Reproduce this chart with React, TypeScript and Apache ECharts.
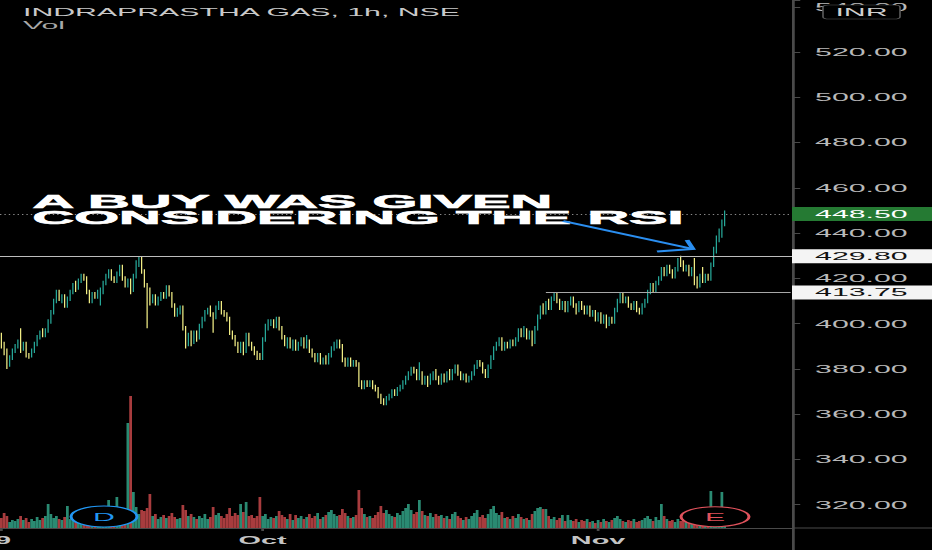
import React, { useEffect, useRef } from 'react';
import * as echarts from 'echarts';

// The reference picture is a TradingView chart stretched horizontally; the chart is
// drawn in an unstretched coordinate space and stretched back with a CSS transform.
const S = 2.75;
const W = 932 / S;
const H = 550;
const FONT = '"Liberation Sans", Arial, Helvetica, sans-serif';

const title = 'INDRAPRASTHA GAS, 1h, NSE';
const volLabel = 'Vol';
const noteLines = ['A BUY WAS GIVEN', 'CONSIDERING THE RSI'];
const currency = 'INR';

// hourly candles: [open, close, low, high]
const septemberCandles: number[][] = [
  [395, 391, 389, 396], [391, 388, 386, 392], [388, 382, 380, 389], [382, 385, 381, 386], [385, 388, 384, 389],
  [388, 390, 387, 391], [390, 392, 389, 393], [392, 389, 387, 398], [389, 391, 388, 392], [391, 386, 385, 392],
  [386, 385.5, 384.5, 387], [385.5, 388, 385, 389], [388, 391, 387, 392], [391, 394, 390, 395], [394, 396, 393, 397],
  [396, 395, 394, 398], [395, 397, 394, 398], [397, 401, 396, 402], [401, 405, 400, 406], [405, 410, 404, 411],
  [410, 414, 409, 415], [414, 411, 410, 415], [411, 412, 409, 413], [412, 408, 407, 413], [408, 411, 407, 412],
  [411, 414, 410, 415], [414, 417, 413, 418], [417, 416, 414, 419], [416, 419, 415, 420], [419, 421, 418, 422],
  [421, 420, 419, 422], [420, 414, 413, 421], [414, 410, 409, 415], [410, 413, 409, 414], [413, 412, 411, 414],
  [412, 414, 411, 415], [414, 415, 408, 416], [415, 418, 413, 419], [418, 421, 417, 422], [421, 423, 420, 424],
  [423, 420, 419, 424], [420, 419, 418, 421], [419, 422, 418, 423], [422, 425, 421, 426], [425, 420, 419, 426],
  [420, 417, 416, 421], [417, 419, 416, 420], [419, 415, 413, 420], [415, 421, 414, 422], [421, 427, 420, 428],
  [427, 429, 425, 429.8], [429, 423, 422, 429.5], [423, 417, 416, 424], [417, 415, 398, 418], [415, 410, 408, 416],
  [410, 412, 409, 413], [412, 409, 408, 413], [409, 411, 408, 412], [411, 413, 410, 414], [413, 412, 411, 414],
  [412, 416, 411, 417], [416, 413, 412, 417], [413, 408, 407, 414], [408, 404, 403, 409], [404, 406, 403, 407],
  [406, 407, 404, 408], [407, 398, 397, 408], [398, 391, 389, 399], [391, 395, 390, 396], [395, 393, 390, 397],
  [393, 396, 391, 397], [396, 394, 392, 397], [394, 399, 393, 400], [399, 402, 398, 403], [402, 405, 401, 406],
  [405, 406, 404, 407], [406, 404, 403, 408], [404, 403, 396, 405], [403, 407, 402, 408], [407, 409, 406, 410],
  [409, 405, 404, 410], [405, 404, 403, 406], [404, 402, 401, 405], [402, 396, 395, 403], [396, 394, 393, 397],
  [394, 391, 390, 395], [391, 389, 387, 392], [389, 391, 387, 392], [391, 388, 386, 392], [388, 395, 387, 396],
  [395, 391, 390, 396], [391, 389, 388, 392], [389, 387, 386, 390], [387, 386, 384, 388], [386, 385, 384, 387],
];

const octoberCandles: number[][] = [
  [385, 393, 384, 394], [393, 398, 392, 400], [398, 400, 397, 402], [400, 401, 399, 402], [401, 399, 398, 402],
  [399, 402, 398, 403], [402, 398, 397, 403], [398, 394, 393, 399], [394, 391, 390, 395], [391, 393, 389, 394],
  [393, 390, 389, 394], [390, 392, 388, 393], [392, 389, 388, 393], [389, 391, 388, 392], [391, 393, 390, 394],
  [393, 390, 389, 394], [390, 392, 389, 395], [392, 388, 387, 393], [388, 386, 385, 389], [386, 384, 383, 387],
  [384, 386, 383, 387], [386, 383, 382, 387], [383, 384, 382, 385], [384, 383, 382, 386], [383, 386, 382, 387],
  [386, 389, 385, 390], [389, 391, 388, 392], [391, 392, 389, 393], [392, 390, 389, 393], [390, 384, 383, 391],
  [384, 382, 381, 385], [382, 384, 381, 385], [384, 382, 381, 385], [382, 383, 381, 384], [383, 382, 381, 384],
  [382, 374, 372, 383], [374, 372, 371, 375], [372, 374, 371, 375], [374, 373, 372, 375], [373, 374, 372, 375],
  [374, 372, 371, 375], [372, 371, 370, 373], [371, 368, 367, 372], [368, 366, 364.5, 369], [366, 365, 364, 367],
  [365, 367, 364, 368], [367, 368, 366, 369], [368, 370, 367, 371], [370, 369, 368, 371], [369, 371, 368, 372],
  [371, 372, 370, 373], [372, 374, 371, 375], [374, 376, 373, 377], [376, 378, 375, 379], [378, 380, 377, 381],
  [380, 379, 378, 381], [379, 376, 375, 380], [376, 378, 375, 383], [378, 374, 373, 379], [374, 376, 373, 377],
  [376, 374, 372, 377], [374, 377, 373, 378], [377, 378, 375, 379], [378, 376, 375, 380], [376, 374, 373, 377],
  [374, 377, 373, 378], [377, 375, 374, 378], [375, 378, 374, 379], [378, 376, 375, 380], [376, 379, 375, 380],
  [379, 381, 378, 382], [381, 378, 377, 382], [378, 376, 375, 379], [376, 377, 375, 378], [377, 375, 374, 378],
  [375, 376, 374, 377], [376, 378, 375, 379], [378, 381, 377, 382], [381, 383, 380, 384], [383, 382, 381, 384],
  [382, 379, 378, 383], [379, 377, 376, 380], [377, 381, 376, 382], [381, 385, 380, 386], [385, 389, 384, 390],
  [389, 391, 388, 392], [391, 393, 390, 394], [393, 389, 388, 394], [389, 391, 388, 392], [391, 390, 389, 392],
  [390, 392, 389, 393], [392, 391, 390, 393], [391, 393, 390, 394], [393, 397, 392, 398], [397, 395, 394, 398],
  [395, 397, 394, 399], [397, 394, 393, 398], [394, 396, 393, 397], [396, 392, 390, 397], [392, 398, 391, 399],
  [398, 403, 397, 404], [403, 407, 402, 408], [407, 405, 404, 409], [405, 409, 404, 410], [409, 407, 406, 411],
  [407, 411, 406, 412], [411, 413, 410, 414], [413, 410, 409, 414], [410, 407, 406, 411], [407, 409, 406, 410],
  [409, 406, 405, 410], [406, 409, 405, 410], [409, 411, 408, 412], [411, 408, 407, 412], [408, 406, 404, 409],
  [406, 409, 405, 410], [409, 407, 406, 410], [407, 405, 404, 408], [405, 407, 404, 408], [407, 404, 403, 408],
  [404, 405, 403, 406], [405, 402, 401, 406],
];

const novemberCandles: number[][] = [
  [402, 404, 401, 405], [404, 401, 400, 405], [401, 403, 400, 404], [403, 400, 398, 404], [400, 402, 399, 403],
  [402, 401, 400, 403], [401, 406, 400, 407], [406, 410, 405, 411], [410, 413, 409, 414], [413, 410, 409, 414],
  [410, 411, 409, 412], [411, 408, 407, 412], [408, 407, 406, 409], [407, 409, 406, 410], [409, 406, 405, 410],
  [406, 405, 404, 407], [405, 408, 404, 409], [408, 410, 407, 411], [410, 414, 409, 415], [414, 417, 413, 418],
  [417, 415, 414, 418], [415, 418, 414, 419], [418, 420, 417, 421], [420, 424, 419, 425], [424, 422, 421, 425],
  [422, 425, 421, 426], [425, 423, 422, 426], [423, 421, 420, 424], [421, 424, 420, 425], [424, 428, 423, 429],
  [428, 427, 425, 430], [427, 424, 423, 428], [424, 425, 423, 426], [425, 422, 421, 426], [422, 424, 421, 425],
  [424, 419, 417, 429], [419, 417, 415.5, 421], [417, 421, 416, 422], [421, 419, 418, 425], [419, 421, 418, 422],
  [421, 420, 419, 422], [420, 426, 419, 427], [426, 433, 425, 434], [433, 438, 431, 439], [438, 440, 436, 442],
  [440, 445, 438, 446], [445, 448.5, 443, 450],
];

// volume per candle, in units of 10,000 shares
const septemberVolumes = [
  10, 15, 12, 6, 8, 7, 9, 12, 8, 10, 6, 9, 7, 11, 8, 10, 12, 24, 14, 10,
  12, 9, 8, 11, 22, 9, 8, 10, 7, 9, 8, 11, 8, 10, 7, 9, 12, 10, 12, 28,
  9, 11, 31, 12, 10, 9, 105, 132, 36, 21, 14, 18, 17, 20, 34, 12, 14, 9, 11, 13,
  10, 12, 15, 11, 9, 10, 23, 18, 12, 14, 11, 9, 12, 10, 14, 9, 11, 21, 13, 15,
  12, 10, 14, 20, 12, 15, 13, 24, 16, 26, 12, 13, 10, 12, 31,
];
const octoberVolumes = [
  12, 14, 9, 11, 10, 12, 17, 13, 11, 9, 14, 8, 13, 10, 12, 9, 11, 14, 10, 12,
  15, 9, 11, 13, 16, 18, 14, 12, 13, 19, 15, 12, 10, 11, 13, 38, 20, 14, 11, 12,
  10, 13, 16, 22, 15, 18, 14, 12, 11, 15, 13, 17, 20, 24, 18, 14, 16, 28, 17, 13,
  12, 15, 11, 14, 12, 13, 10, 12, 9, 14, 16, 12, 10, 8, 11, 9, 12, 15, 18, 11,
  13, 10, 14, 19, 22, 15, 13, 16, 10, 11, 9, 12, 10, 14, 11, 9, 10, 8, 14, 17,
  20, 21, 19, 19, 12, 9, 11, 8, 10, 13, 7, 13, 8, 7, 9, 6, 8, 7, 9, 6,
  7, 5,
];
const novemberVolumes = [
  8, 6, 9, 7, 6, 8, 10, 12, 9, 7, 6, 8, 7, 9, 6, 7, 8, 10, 12, 9,
  7, 11, 8, 24, 12, 9, 7, 8, 6, 9, 7, 8, 6, 7, 5, 9, 8, 7, 6, 8,
  9, 37, 14, 11, 10, 36, 18,
];

const EMPTY_SLOTS = 24; // blank bars to the right of the last candle
const xTickLabels = [
  { index: 0, text: '19' },
  { index: 95, text: 'Oct' },
  { index: 217, text: 'Nov' },
];

const lastPrice = 448.5;
const resistance = 429.8;
const breakout = 413.75;
const breakoutStartIndex = 198;

const candles = [...septemberCandles, ...octoberCandles, ...novemberCandles];
const volumes = [...septemberVolumes, ...octoberVolumes, ...novemberVolumes];
const categories = Array.from({ length: candles.length + EMPTY_SLOTS }, (_, i) => String(i));

const UP = '#27a99a';
const DOWN = '#f2ee86';
const VOL_UP = '#2a8a72';
const VOL_DOWN = '#a83c3e';
const AXIS = '#4a4a4a';
const RIGHT = 140 / S;

const sx = (px: number) => px / S;

function tag(text: string, bg: string, fg: string, distance = 0) {
  return {
    show: true,
    position: 'end',
    distance,
    formatter: text,
    backgroundColor: bg,
    color: fg,
    fontSize: 11,
    fontFamily: FONT,
    lineHeight: 12,
    padding: [1, 9, 1, 8.4],
  };
}

function buildOption() {
  const tickMap = new Map(xTickLabels.map((t) => [t.index, t.text]));
  const isTick = (index: number) => tickMap.has(index);

  const textEl = (text: string, x: number, y: number, font: string, fill: string, align = 'left', extra: any = {}, scaleY = 1) => ({
    type: 'text',
    x,
    y,
    scaleY,
    z: 20,
    silent: true,
    style: {
      text,
      x: 0,
      y: 0,
      font,
      fill,
      align,
      verticalAlign: 'middle',
      textAlign: align,
      textVerticalAlign: 'middle',
      ...extra,
    },
  });

  const gridBase = { left: 0, right: RIGHT, containLabel: false, outerBoundsMode: 'none' };

  return {
    animation: false,
    backgroundColor: '#000000',
    textStyle: { fontFamily: FONT },
    grid: [
      { ...gridBase, top: 0, bottom: 0 },
      { ...gridBase, top: 388, bottom: 22 },
    ],
    xAxis: [
      { type: 'category', gridIndex: 0, data: categories, boundaryGap: true, show: false },
      {
        type: 'category',
        gridIndex: 1,
        data: categories,
        boundaryGap: true,
        axisLine: { show: true, lineStyle: { color: AXIS, width: 1 } },
        axisTick: { show: true, alignWithLabel: true, interval: isTick, length: 3, lineStyle: { color: AXIS } },
        axisLabel: {
          show: true,
          interval: isTick,
          margin: 6.5,
          color: '#c4c4c4',
          fontSize: 10.5,
          fontWeight: 'bold',
          fontFamily: FONT,
          formatter: (_v: string, index: number) => {
            const t = tickMap.get(index) || '';
            return index === 0 ? `{cut|${t}}` : t;
          },
          rich: {
            cut: { padding: [0, 4.6, 0, 0], color: '#c4c4c4', fontSize: 10.5, fontWeight: 'bold', fontFamily: FONT },
          },
        },
        splitLine: { show: false },
      },
    ],
    yAxis: [
      {
        type: 'value',
        gridIndex: 0,
        position: 'right',
        min: 300,
        max: 543,
        interval: 20,
        axisLine: { show: true, lineStyle: { color: AXIS, width: 1 } },
        axisTick: { show: true, length: 3, lineStyle: { color: AXIS } },
        axisLabel: {
          color: '#b9b9b9',
          fontSize: 11,
          fontFamily: FONT,
          margin: 8.4,
          formatter: (v: number) => (v % 20 === 0 && v >= 320 ? v.toFixed(2) : ''),
        },
        splitLine: { show: false },
      },
      { type: 'value', gridIndex: 1, min: 0, max: 140, show: false, splitLine: { show: false } },
    ],
    series: [
      {
        type: 'candlestick',
        xAxisIndex: 0,
        yAxisIndex: 0,
        data: candles,
        barWidth: '66%',
        itemStyle: { color: UP, color0: DOWN, borderColor: UP, borderColor0: DOWN, borderWidth: 0.45 },
        markLine: {
          silent: true,
          symbol: ['none', 'none'],
          animation: false,
          data: [
            {
              yAxis: lastPrice,
              lineStyle: { color: '#8a8a8a', type: [0.5, 1.1], width: 1 },
              label: tag(lastPrice.toFixed(2), '#257a33', '#ffffff'),
            },
            {
              yAxis: resistance,
              lineStyle: { color: '#bdbdbd', type: 'solid', width: 1 },
              label: tag(resistance.toFixed(2), '#f4f4f4', '#111111'),
            },
            [
              {
                coord: [categories[breakoutStartIndex], breakout],
                lineStyle: { color: '#a8a8a8', type: 'solid', width: 1 },
                label: tag(breakout.toFixed(2), '#f4f4f4', '#111111', 0.5),
              },
              {
                coord: [categories[categories.length - 1], breakout],
                lineStyle: { color: '#a8a8a8', type: 'solid', width: 1 },
                label: tag(breakout.toFixed(2), '#f4f4f4', '#111111', 0.5),
              },
            ],
          ],
        },
      },
      {
        type: 'bar',
        xAxisIndex: 1,
        yAxisIndex: 1,
        barWidth: '38%',
        data: volumes.map((v, i) => ({
          value: v,
          itemStyle: { color: candles[i][1] >= candles[i][0] ? VOL_UP : VOL_DOWN },
        })),
      },
    ],
    graphic: [
      textEl(title, sx(23), 12.3, `11px ${FONT}`, '#c9c9c9'),
      textEl(volLabel, sx(23), 25.3, `11px ${FONT}`, '#a8a8a8'),
      textEl(noteLines[0], sx(32.5), 201.7, `bold 21px ${FONT}`, '#ffffff', 'left', { stroke: '#ffffff', lineWidth: 0.7 }, 0.88),
      textEl(noteLines[1], sx(32.5), 217.8, `bold 21px ${FONT}`, '#ffffff', 'left', { stroke: '#ffffff', lineWidth: 0.7 }, 0.88),
      {
        type: 'polyline',
        z: 20,
        silent: true,
        shape: { points: [[sx(563), 221], [sx(693), 249]] },
        style: { stroke: '#2a8ef0', lineWidth: 1.8, fill: null },
      },
      {
        type: 'polyline',
        z: 20,
        silent: true,
        shape: { points: [[sx(657), 251.5], [sx(693), 249], [sx(687), 240]] },
        style: { stroke: '#2a8ef0', lineWidth: 1.8, fill: null, lineJoin: 'miter' },
      },
      {
        type: 'line',
        z: 20,
        silent: true,
        shape: { x1: sx(792), y1: 528, x2: W, y2: 528 },
        style: { stroke: AXIS, lineWidth: 1 },
      },
      {
        type: 'ellipse',
        z: 20,
        silent: true,
        shape: { cx: sx(104), cy: 516.5, rx: sx(33), ry: 10.5 },
        style: { fill: '#000000', stroke: '#2196f3', lineWidth: 1.1 },
      },
      textEl('D', sx(104), 517, `11px ${FONT}`, '#2196f3', 'center'),
      {
        type: 'ellipse',
        z: 20,
        silent: true,
        shape: { cx: sx(715), cy: 516.7, rx: sx(34), ry: 10 },
        style: { fill: '#000000', stroke: '#e0525c', lineWidth: 1.1 },
      },
      textEl('E', sx(715), 517, `11px ${FONT}`, '#e0525c', 'center'),
      {
        type: 'rect',
        z: 20,
        silent: true,
        shape: { x: sx(823), y: 5, width: sx(77), height: 14, r: 2 },
        style: { fill: '#000000', stroke: '#5a5a5a', lineWidth: 0.6 },
      },
      textEl(currency, sx(861.5), 11.8, `11px ${FONT}`, '#cfcfcf', 'center'),
    ],
  };
}

export default function App() {
  const ref = useRef<HTMLDivElement>(null);
  useEffect(() => {
    const el = ref.current;
    if (!el) return;
    const chart = echarts.init(el, undefined, { renderer: 'svg', width: W, height: H });
    chart.setOption(buildOption() as any);
    return () => chart.dispose();
  }, []);
  return (
    <div style={{ position: 'fixed', left: 0, top: 0, width: 932, height: 550, overflow: 'hidden', background: '#000' }}>
      <div style={{ width: W, height: H, transform: `scaleX(${S})`, transformOrigin: '0 0' }}>
        <div ref={ref} style={{ width: W, height: H }} />
      </div>
    </div>
  );
}
